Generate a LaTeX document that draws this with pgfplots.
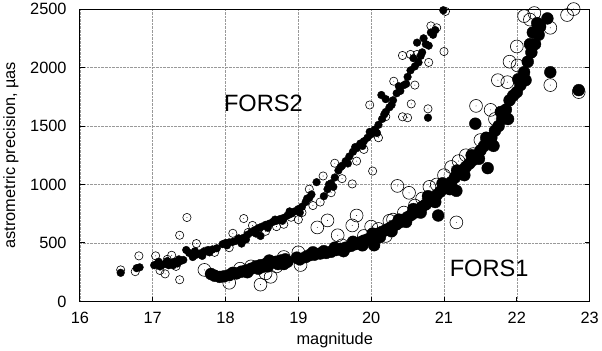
\documentclass[border=0pt]{standalone}
\usepackage{fontspec}
\setmainfont{Liberation Sans}
\usepackage{pgfplots}
\pgfplotsset{compat=1.18}

% open circle with a small dot in the middle
\pgfdeclareplotmark{odot}{%
  \pgfpathcircle{\pgfpointorigin}{\pgfplotmarksize}\pgfusepathqstroke
  \pgfpathcircle{\pgfpointorigin}{0.45bp}\pgfusepathqfill}

\begin{document}
\begin{tikzpicture}
\begin{axis}[
  width=516bp, height=296bp, scale only axis,
  xmin=16, xmax=23, ymin=0, ymax=2500,
  xtick={16,...,23}, ytick={0,500,...,2500},
  xtick pos=left, ytick pos=both, tick align=inside,
  major tick length=5bp,
  tick style={black, line width=1bp},
  axis line style={line width=1bp},
  grid=major, grid style={densely dotted, gray!80, line width=0.5bp},
  ticklabel style={font=\fontsize{16.6}{20}\selectfont},
  label style={font=\fontsize{16.6}{20}\selectfont},
  yticklabel style={xshift=-10bp},
  xticklabel style={yshift=-7bp},
  /pgf/number format/assume math mode=true,
  /pgf/number format/1000 sep={},
  xlabel={magnitude}, ylabel={astrometric precision, µas},
  xlabel style={yshift=-2bp},
  ylabel style={yshift=5bp},
  clip=false,
]
% FORS2 filled
\addplot[only marks, mark=*, mark size=3.9bp, black] coordinates {
(16.56,245)(16.78,285)(16.82,292)(17.02,310)(17.06,320)(17.10,300)(17.14,315)
(17.18,325)(17.22,310)(17.26,330)(17.30,340)(17.34,325)(17.38,345)(17.42,355)
(17.46,440)(17.50,415)(17.55,380)(17.60,400)(17.65,410)(17.70,425)(17.76,440)
(17.82,445)(17.88,455)(17.96,490)(18.00,500)(18.05,505)(18.10,510)(18.15,520)
(18.20,530)(18.25,545)(18.30,570)(18.35,590)(18.40,610)(18.45,625)(18.50,640)
(18.55,655)(18.60,665)(18.65,680)(18.70,690)(18.75,705)(18.80,715)(18.85,735)
(18.90,750)(18.95,770)(19.00,790)(19.05,810)(19.10,850)(19.15,885)(19.18,915)
(19.35,900)(19.40,960)(19.45,1010)(19.50,1060)(19.55,1120)(19.60,1160)(19.65,1200)
(19.70,1240)(19.75,1280)(19.80,1310)(19.85,1350)(19.90,1370)(19.95,1400)(20.00,1430)
(20.05,1470)(20.10,1510)(20.14,1765)(20.15,1560)(20.20,1620)(20.20,1730)(20.25,1660)
(20.30,1720)(20.35,1780)(20.40,1800)(20.45,1850)(20.50,1920)(20.54,1976)(20.60,2010)
(20.63,2213)(20.65,2044)(20.70,2130)(20.75,2200)(20.79,2187)(20.85,2280)(20.88,2320)
(20.99,2490)(20.78,1571)(19.25,1020)(18.48,560)(18.22,495)
(17.08,340)(17.20,345)(17.28,310)(17.36,360)(17.58,430)(17.68,390)(17.78,420)
(18.02,480)(18.18,540)(18.28,530)(18.42,580)(18.58,630)(18.68,700)(18.78,690)
(18.88,770)(19.02,760)(19.12,880)(19.42,1000)(19.48,980)(19.58,1150)(19.68,1180)
(19.78,1320)(19.88,1330)(19.98,1450)(20.08,1440)(20.18,1600)(20.28,1680)(20.38,1840)
(20.48,1860)(20.58,2080)(20.68,2100)(20.72,2250)(20.82,2300)
};
% FORS2 open
\addplot[only marks, mark=odot, mark size=4.2bp, black, line width=0.6bp] coordinates {
(16.56,270)(16.76,255)(16.81,390)(17.04,390)(17.10,265)(17.17,236)(17.20,360)
(17.26,395)(17.32,300)(17.37,186)(17.37,566)(17.47,718)(17.60,495)(17.72,430)
(17.85,420)(18.05,460)(18.10,583)(18.25,709)(18.31,590)(18.37,650)(18.46,625)
(18.55,600)(18.70,640)(18.80,660)(18.90,720)(19.00,700)(19.05,760)(19.15,960)
(19.20,820)(19.30,850)(19.34,1073)(19.45,930)(19.50,1182)(19.60,1050)(19.74,1005)
(19.80,1200)(19.90,1300)(20.02,1115)(19.98,1680)(20.10,1400)(20.20,1580)(20.31,1883)
(20.43,1579)(20.50,1571)(20.43,2103)(20.54,2112)(20.55,1689)(20.63,2112)(20.78,1647)
(20.79,2044)(20.82,2356)(20.90,2340)(21.00,2137)(21.02,2480)(20.60,1850)
};
% FORS1 filled
\addplot[only marks, mark=*, mark size=6bp, black] coordinates {
(17.80,235)(17.85,220)(17.92,210)(17.98,215)(18.05,225)(18.10,245)(18.15,240)
(18.22,255)(18.28,265)(18.35,280)(18.42,300)(18.48,310)(18.55,320)(18.60,330)
(18.65,335)(18.70,340)(18.76,350)(18.82,360)(18.98,375)(19.02,360)(19.15,395)
(19.22,400)(19.30,410)(19.38,415)(19.45,425)(19.52,440)(19.58,450)(19.65,460)
(19.72,475)(19.78,490)(19.85,505)(19.90,520)(19.95,530)(20.00,545)(20.05,560)
(20.10,580)(20.15,595)(20.20,610)(20.25,625)(20.30,645)(20.35,660)(20.40,680)
(20.45,700)(20.50,720)(20.55,740)(20.60,760)(20.65,785)(20.70,810)(20.75,830)
(20.80,860)(20.85,880)(20.90,910)(20.95,940)(21.00,970)(21.05,990)(21.10,1020)
(21.15,1060)(21.20,1090)(21.25,1120)(21.30,1150)(21.35,1180)(21.40,1210)(21.45,1250)
(21.50,1290)(21.55,1330)(21.60,1360)(21.65,1400)(21.70,1460)(21.75,1500)(21.80,1560)
(21.85,1640)(21.90,1720)(21.95,1760)(22.00,1790)(22.05,1850)(22.10,1960)(22.12,1892)
(22.15,2050)(22.20,2130)(22.25,2200)(22.30,2280)(22.42,2420)(22.46,1960)(22.85,1807)
(20.04,481)(20.92,735)(21.17,946)(21.60,1140)(21.43,1520)
(18.30,250)(18.45,280)(18.58,300)(18.72,320)(18.85,340)(19.10,380)(19.20,420)
(19.35,430)(19.50,460)(19.62,430)(19.75,510)(19.88,480)(20.02,580)(20.12,550)
(20.28,600)(20.38,700)(20.48,680)(20.58,790)(20.68,760)(20.78,900)(20.88,850)
(20.98,1010)(21.08,960)(21.18,1120)(21.28,1080)(21.38,1250)(21.48,1220)(21.58,1400)
(21.68,1330)(21.78,1620)(21.88,1560)(22.02,1900)(22.18,2200)(22.22,2300)(22.28,2380)
(22.32,2350)(18.60,350)(18.80,320)(18.50,295)
};
% FORS1 open
\addplot[only marks, mark=odot, mark size=6.5bp, black, line width=0.6bp] coordinates {
(17.71,270)(18.05,160)(18.20,280)(18.35,300)(18.48,144)(18.55,240)(18.62,211)
(18.70,300)(18.80,380)(19.00,420)(19.03,312)(19.26,633)(19.40,693)(19.54,566)
(19.74,650)(19.80,735)(19.60,480)(19.90,560)(20.10,620)(20.20,560)(20.36,988)
(20.52,929)(20.30,700)(20.45,760)(20.60,820)(20.70,880)(20.80,980)(20.90,1000)
(21.00,1080)(21.10,1150)(21.17,676)(21.20,1200)(21.30,1250)(21.40,1260)(21.44,1672)
(21.50,1380)(21.64,1638)(21.70,1560)(21.74,1892)(21.87,1875)(21.90,2050)(22.00,2180)
(22.01,2018)(22.10,2440)(22.18,2410)(22.24,2466)(22.46,2340)(22.69,2449)(22.78,2500)
(22.46,1850)(22.85,1790)(20.00,640)(20.25,690)
};
\node[font=\fontsize{24}{28}\selectfont] at (axis cs:18.52,1697) {FORS2};
\node[font=\fontsize{24}{28}\selectfont] at (axis cs:21.62,287) {FORS1};
\end{axis}
\end{tikzpicture}
\end{document}
